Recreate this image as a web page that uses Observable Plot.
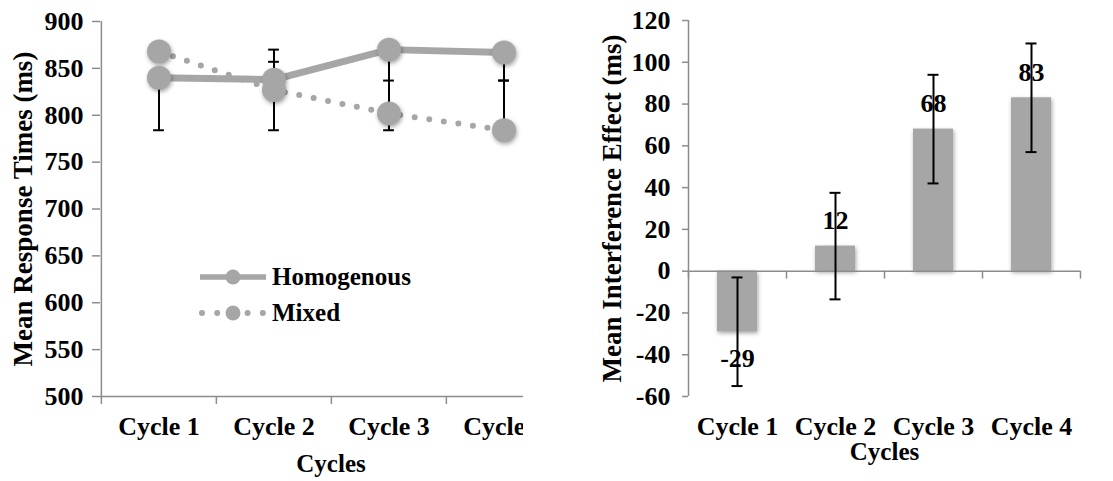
<!DOCTYPE html>
<html>
<head>
<meta charset="utf-8">
<script src="https://cdn.jsdelivr.net/npm/d3@7"></script>
<script src="https://cdn.jsdelivr.net/npm/@observablehq/plot@0.6"></script>
<style>
  html, body { margin: 0; padding: 0; background: #fff; }
  #wrap { position: relative; width: 1113px; height: 481px; overflow: hidden; font-family: "Liberation Serif", "Times New Roman", serif; font-weight: bold; }
  #left { position: absolute; left: 0; top: 0; width: 523px; height: 481px; overflow: hidden; }
  #right { position: absolute; left: 560px; top: 0; width: 553px; height: 481px; }
  #left > svg, #right > svg { max-width: none !important; height: 481px !important; display: block; }
  #legend { position: absolute; left: 196px; top: 0; }
  .lg-row { position: absolute; left: 0; display: flex; align-items: center; white-space: nowrap; font-size: 25px; color: #000; }
  svg .shadow { filter: drop-shadow(1px 2px 2px rgba(0,0,0,0.35)); }
</style>
</head>
<body>
<div id="wrap">
  <div id="left"></div>
  <div id="right"></div>
</div>
<script>
// ---- data ----
const cycles = ["Cycle 1", "Cycle 2", "Cycle 3", "Cycle 4"];
const seriesNames = ["Homogenous", "Mixed"];
const homogenous = [840, 838, 870, 867];
const mixed = [868, 827, 802, 784];
// error bar extents as drawn
const homogenousLow = [784, 784, 784, 837];
const homogenousHigh = [840, 870, 870, 867];
const mixedLow = [868, 827, 802, 784];
const mixedHigh = [868, 857, 837, 837];
const rtTicks = [500, 550, 600, 650, 700, 750, 800, 850, 900];

const effects = [-29, 12, 68, 83];
const effectErr = [26, 25.5, 26, 26];
const effectTicks = [-60, -40, -20, 0, 20, 40, 60, 80, 100, 120];

// ---- styles ----
const gray = "#a6a6a6";
const axisGray = "#8c8c8c";
const font = "'Liberation Serif', 'Times New Roman', serif";

const rtRows = cycles.flatMap((c, i) => [
  {cycle: c, series: seriesNames[0], value: homogenous[i], lo: homogenousLow[i], hi: homogenousHigh[i]},
  {cycle: c, series: seriesNames[1], value: mixed[i], lo: mixedLow[i], hi: mixedHigh[i]}
]);
const homRows = rtRows.filter(d => d.series === seriesNames[0]);
const mixRows = rtRows.filter(d => d.series === seriesNames[1]);

const effRows = cycles.map((c, i) => ({cycle: c, value: effects[i], lo: effects[i] - effectErr[i], hi: effects[i] + effectErr[i]}));

function styleAxes(svg) {
  const s = d3.select(svg);
  s.selectAll('[aria-label="y-axis tick"], [aria-label="x-axis tick"]').attr("stroke", axisGray).attr("stroke-width", 1.5);
  s.selectAll('[aria-label="y-axis"] line, [aria-label="x-axis"] line').attr("stroke", axisGray).attr("stroke-width", 1.5);
  s.selectAll('[aria-label="dot"], [aria-label="bar"]').attr("class", "shadow");
  return svg;
}

// ---- left chart ----
const LW = 600, LH = 481, LML = 100, LMR = 39, LMT = 21, LMB = 85;
const bwL = (LW - LML - LMR) / cycles.length;
const left = Plot.plot({
  width: LW, height: LH,
  marginLeft: LML, marginRight: LMR, marginTop: LMT, marginBottom: LMB,
  style: {fontFamily: font, fontWeight: "bold", fontSize: "26px", color: "#000", background: "transparent", overflow: "visible", maxWidth: "none"},
  x: {domain: cycles, padding: 0, tickSize: 0, tickPadding: 20, label: null},
  y: {domain: [500, 900], ticks: rtTicks, tickSize: 8, tickPadding: 9, label: null, tickFormat: d => String(d)},
  marks: [
    Plot.ruleX([cycles[0]], {dx: -bwL / 2, stroke: axisGray, strokeWidth: 1.5}),
    Plot.ruleY([500], {stroke: axisGray, strokeWidth: 1.5}),
    Plot.ruleX(cycles, {x: d => d, y1: 500, y2: 491.5, dx: -bwL / 2, stroke: axisGray, strokeWidth: 1.5}),
    Plot.ruleX([cycles[cycles.length - 1]], {y1: 500, y2: 491.5, dx: bwL / 2, stroke: axisGray, strokeWidth: 1.5}),
    Plot.ruleX(rtRows, {x: "cycle", y1: "lo", y2: "hi", stroke: "#000", strokeWidth: 2}),
    Plot.tickY(rtRows, {x: "cycle", y: "lo", stroke: "#000", strokeWidth: 2, insetLeft: (bwL - 11) / 2, insetRight: (bwL - 11) / 2}),
    Plot.tickY(rtRows, {x: "cycle", y: "hi", stroke: "#000", strokeWidth: 2, insetLeft: (bwL - 11) / 2, insetRight: (bwL - 11) / 2}),
    Plot.line(mixRows, {x: "cycle", y: "value", stroke: gray, strokeWidth: 6, strokeDasharray: "0 14.7", strokeLinecap: "round"}),
    Plot.line(homRows, {x: "cycle", y: "value", stroke: gray, strokeWidth: 7}),
    Plot.dot(rtRows, {x: "cycle", y: "value", r: 12, fill: gray, stroke: "none"}),
    Plot.text(["Mean Response Times (ms)"], {frameAnchor: "left", rotate: -90, dx: -77, fontSize: 27, fill: "#000", textAnchor: "middle", lineAnchor: "middle"}),
    Plot.text(["Cycles"], {frameAnchor: "bottom", dy: 67, fontSize: 25, fill: "#000", textAnchor: "middle", lineAnchor: "middle"})
  ]
});
document.getElementById("left").appendChild(styleAxes(left));

// legend overlay (inside left chart)
const legendDiv = d3.select("#left").append("div").attr("id", "legend");
const rowsY = [277, 313];
seriesNames.forEach((name, i) => {
  const row = legendDiv.append("div").attr("class", "lg-row").style("top", (rowsY[i] - 15) + "px").style("height", "30px");
  const sw = row.append("svg").attr("width", 74).attr("height", 30).style("margin-right", "2px");
  if (i === 0) {
    sw.append("line").attr("x1", 4).attr("x2", 70).attr("y1", 15).attr("y2", 15).attr("stroke", gray).attr("stroke-width", 5.5);
  } else {
    sw.append("line").attr("x1", 6).attr("x2", 70).attr("y1", 15).attr("y2", 15).attr("stroke", gray).attr("stroke-width", 6)
      .attr("stroke-dasharray", "0 15.2").attr("stroke-linecap", "round");
  }
  sw.append("circle").attr("cx", 37).attr("cy", 15).attr("r", 7.5).attr("fill", gray);
  row.append("span").text(name);
});

// ---- right chart ----
const RW = 553, RH = 481, RML = 128, RMR = 33, RMT = 20, RMB = 85;
const bwR = (RW - RML - RMR) / cycles.length;
const pos = effRows.filter(d => d.value >= 0);
const neg = effRows.filter(d => d.value < 0);
const right = Plot.plot({
  width: RW, height: RH,
  marginLeft: RML, marginRight: RMR, marginTop: RMT, marginBottom: RMB,
  style: {fontFamily: font, fontWeight: "bold", fontSize: "26px", color: "#000", background: "transparent", overflow: "visible", maxWidth: "none"},
  x: {domain: cycles, padding: 0, tickSize: 0, tickPadding: 20, label: null},
  y: {domain: [-60, 120], ticks: effectTicks, tickSize: 6, tickPadding: 12, label: null, tickFormat: d => String(d)},
  marks: [
    Plot.barY(effRows, {x: "cycle", y: "value", fill: gray, insetLeft: 29, insetRight: 29}),
    Plot.ruleX([cycles[0]], {dx: -bwR / 2, stroke: axisGray, strokeWidth: 1.5}),
    Plot.ruleY([0], {stroke: axisGray, strokeWidth: 1.5}),
    Plot.ruleX(cycles, {x: d => d, y1: 0, y2: -3.8, dx: -bwR / 2, stroke: axisGray, strokeWidth: 1.5}),
    Plot.ruleX([cycles[cycles.length - 1]], {y1: 0, y2: -3.8, dx: bwR / 2, stroke: axisGray, strokeWidth: 1.5}),
    Plot.text(pos, {x: "cycle", y: "value", text: d => String(d.value), dy: -25, fontSize: 26, fill: "#000"}),
    Plot.text(neg, {x: "cycle", y: "value", text: d => String(d.value), dy: 27, fontSize: 26, fill: "#000"}),
    Plot.ruleX(effRows, {x: "cycle", y1: "lo", y2: "hi", stroke: "#000", strokeWidth: 2}),
    Plot.tickY(effRows, {x: "cycle", y: "lo", stroke: "#000", strokeWidth: 2, insetLeft: (bwR - 11) / 2, insetRight: (bwR - 11) / 2}),
    Plot.tickY(effRows, {x: "cycle", y: "hi", stroke: "#000", strokeWidth: 2, insetLeft: (bwR - 11) / 2, insetRight: (bwR - 11) / 2}),
    Plot.text(["Mean Interference Effect (ms)"], {frameAnchor: "left", rotate: -90, dx: -76, fontSize: 27, fill: "#000", textAnchor: "middle", lineAnchor: "middle"}),
    Plot.text(["Cycles"], {frameAnchor: "bottom", dy: 55, fontSize: 25, fill: "#000", textAnchor: "middle", lineAnchor: "middle"})
  ]
});
document.getElementById("right").appendChild(styleAxes(right));
</script>
</body>
</html>
